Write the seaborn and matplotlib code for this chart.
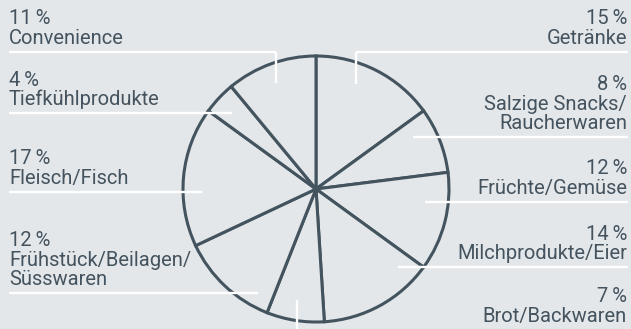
import matplotlib
matplotlib.use("Agg")
import matplotlib.pyplot as plt
import seaborn as sns

# Sortiment shares, clockwise from 12 o'clock
categories = [
    "Getränke",
    "Salzige Snacks/\nRaucherwaren",
    "Früchte/Gemüse",
    "Milchprodukte/Eier",
    "Brot/Backwaren",
    "Frühstück/Beilagen/\nSüsswaren",
    "Fleisch/Fisch",
    "Tiefkühlprodukte",
    "Convenience",
]
shares = [15, 8, 12, 14, 7, 12, 17, 4, 11]

BG = "#e3e7ea"
INK = "#44545f"
TEXT = "#44535e"

sns.set_theme(style="white")
plt.rcParams["font.family"] = ["Roboto", "DejaVu Sans"]

W, H = 631, 329
fig = plt.figure(figsize=(W / 100, H / 100), dpi=100, facecolor=BG)
ax = fig.add_axes([0, 0, 1, 1])
ax.set_facecolor(BG)

ax.pie(
    shares,
    startangle=90,
    counterclock=False,
    center=(316, H - 189),
    radius=133,
    colors=[BG] * len(shares),
    wedgeprops=dict(edgecolor=INK, linewidth=2.2),
    frame=True,
)
ax.set_xlim(0, W)
ax.set_ylim(0, H)
ax.axis("off")

# label layout: (side, underline y, underline x-extent, optional vertical tick)
layout = {
    "Getränke": ("right", 52, (356, 628), (356, 52, 84)),
    "Salzige Snacks/\nRaucherwaren": ("right", 137, (413, 628), None),
    "Früchte/Gemüse": ("right", 202, (425, 628), None),
    "Milchprodukte/Eier": ("right", 267, (398, 628), None),
    "Brot/Backwaren": ("right", 330, None, (297, 300, 335)),
    "Frühstück/Beilagen/\nSüsswaren": ("left", 293, (9, 258), None),
    "Fleisch/Fisch": ("left", 192, (9, 202), None),
    "Tiefkühlprodukte": ("left", 113, (9, 232), None),
    "Convenience": ("left", 52, (9, 276), (276, 52, 83)),
}
LEADING = 19.5

line_kw = dict(color="white", linewidth=1.7, solid_capstyle="butt", zorder=5)
for cat, val in zip(categories, shares):
    side, ly, hx, vt = layout[cat]
    if hx is not None:
        ax.plot([hx[0], hx[1]], [H - ly, H - ly], **line_kw)
    if vt is not None:
        ax.plot([vt[0], vt[0]], [H - vt[1], H - vt[2]], **line_kw)
    rows = [f"{val}\u200a\u200a%"] + cat.split("\n")
    x = 9 if side == "left" else 627
    base = ly - 8
    for k, row in enumerate(reversed(rows)):
        ax.text(
            x, H - (base - k * LEADING), row,
            ha=side, va="baseline",
            fontsize=14.5, color=TEXT, zorder=6,
        )

fig.savefig("out.png", dpi=100, facecolor=BG)
